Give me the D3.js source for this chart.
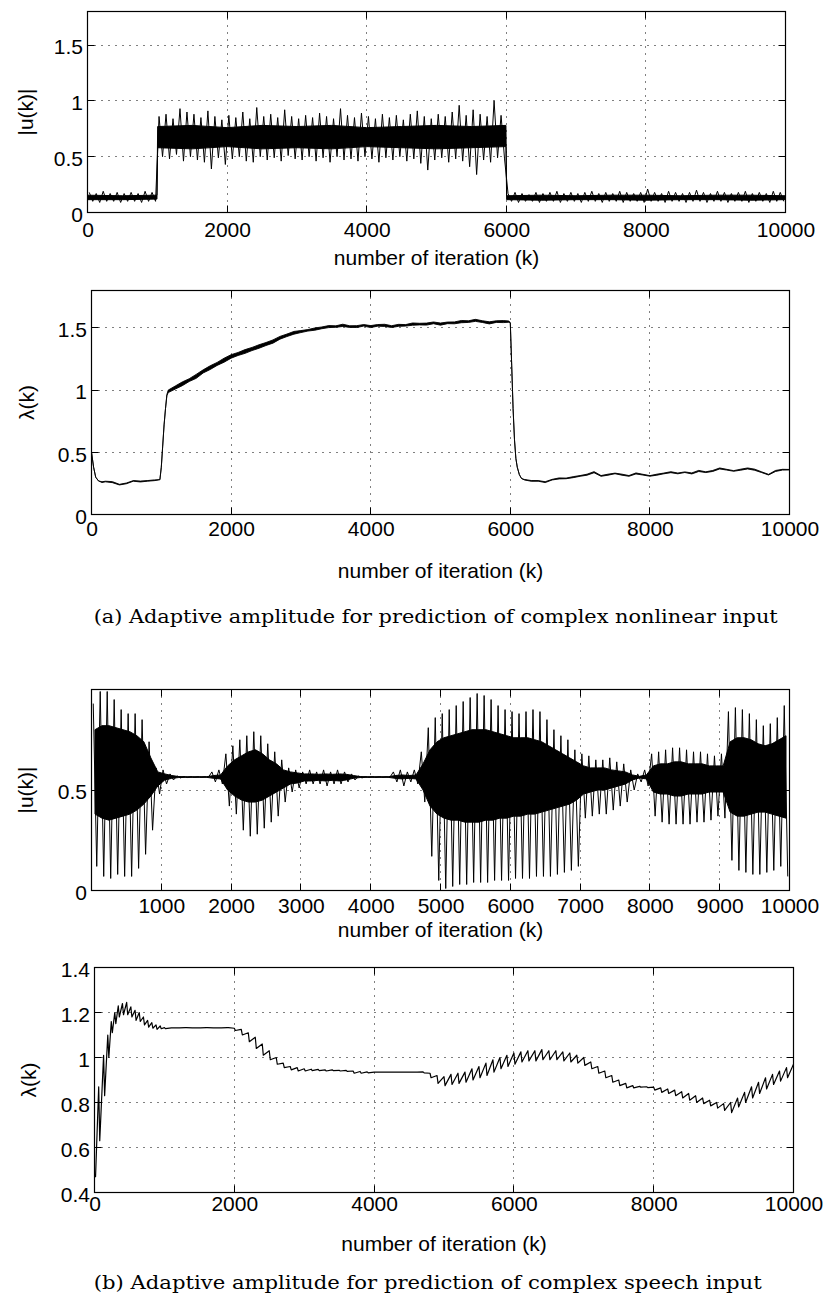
<!DOCTYPE html>
<html>
<head>
<meta charset="utf-8">
<script src="https://cdn.jsdelivr.net/npm/d3@7"></script>
<style>
  body { margin: 0; background: #fff; }
  svg { display: block; }
</style>
</head>
<body>
<div id="chart"></div>
<script>
// Iteration bins (centre of every 100 iterations) used for the noisy |u(k)| traces.
const iterBins = d3.range(50, 10000, 100);

// Tick values.
const xTicksEven = [0, 2000, 4000, 6000, 8000, 10000];
const xTicksThousand = [1000, 2000, 3000, 4000, 5000, 6000, 7000, 8000, 9000, 10000];
const yTicksA = [0, 0.5, 1, 1.5];
const yTicksSpeechU = [0, 0.5];
const yTicksSpeechLam = [0.4, 0.6, 0.8, 1, 1.2, 1.4];

// (a) |u(k)|, nonlinear input: per-bin extremes and the solid core of the band.
const absU1Max = [
  0.18, 0.17, 0.19, 0.17, 0.18, 0.17, 0.18, 0.17, 0.19, 0.18,
  0.86, 0.88, 0.84, 0.93, 0.90, 0.88, 0.85, 0.91, 0.86, 0.83,
  0.87, 0.85, 0.90, 0.84, 0.94, 0.86, 0.88, 0.85, 0.92, 0.86,
  0.84, 0.87, 0.85, 0.89, 0.86, 0.84, 0.93, 0.87, 0.85, 0.89,
  0.86, 0.84, 0.88, 0.85, 0.87, 0.83, 0.88, 0.91, 0.86, 0.84,
  0.88, 0.86, 0.90, 0.96, 0.87, 0.92, 0.88, 0.86, 1.00, 0.87,
  0.17, 0.18, 0.17, 0.16, 0.18, 0.17, 0.18, 0.19, 0.17, 0.18,
  0.17, 0.18, 0.19, 0.17, 0.18, 0.17, 0.19, 0.18, 0.17, 0.18,
  0.21, 0.18, 0.17, 0.19, 0.18, 0.17, 0.18, 0.20, 0.18, 0.17,
  0.19, 0.18, 0.17, 0.18, 0.19, 0.17, 0.18, 0.17, 0.19, 0.18
];
const absU1Min = [
  0.10, 0.09, 0.10, 0.10, 0.09, 0.10, 0.10, 0.09, 0.10, 0.10,
  0.50, 0.48, 0.52, 0.46, 0.50, 0.47, 0.45, 0.39, 0.49, 0.43,
  0.48, 0.50, 0.46, 0.45, 0.50, 0.47, 0.49, 0.46, 0.51, 0.48,
  0.47, 0.50, 0.46, 0.49, 0.45, 0.50, 0.47, 0.48, 0.46, 0.50,
  0.48, 0.45, 0.49, 0.47, 0.50, 0.46, 0.48, 0.44, 0.38, 0.47,
  0.49, 0.45, 0.48, 0.46, 0.41, 0.34, 0.47, 0.45, 0.49, 0.48,
  0.10, 0.09, 0.10, 0.10, 0.09, 0.10, 0.10, 0.09, 0.10, 0.10,
  0.09, 0.10, 0.10, 0.09, 0.10, 0.10, 0.09, 0.10, 0.10, 0.09,
  0.10, 0.10, 0.09, 0.10, 0.10, 0.09, 0.10, 0.10, 0.09, 0.10,
  0.10, 0.09, 0.10, 0.10, 0.09, 0.10, 0.10, 0.09, 0.10, 0.10
];
const absU1CoreK = [0, 500, 995, 1005, 1500, 2000, 2500, 3000, 3500, 4000, 4500, 5000, 5500, 5995,
  6005, 6500, 7000, 7500, 8000, 8500, 9000, 9500, 10000];
const absU1CoreHi = [0.155, 0.15, 0.155, 0.77, 0.78, 0.76, 0.78, 0.77, 0.78, 0.76, 0.77, 0.78, 0.77, 0.78,
  0.15, 0.155, 0.15, 0.155, 0.155, 0.15, 0.155, 0.155, 0.15];
const absU1CoreLo = [0.115, 0.115, 0.12, 0.58, 0.57, 0.59, 0.57, 0.58, 0.57, 0.59, 0.58, 0.57, 0.58, 0.59,
  0.115, 0.11, 0.115, 0.115, 0.11, 0.115, 0.115, 0.11, 0.115];

// (a) lambda(k), nonlinear input: centre of the trace and its noise spread.
const lamAK = [0, 30, 60, 100, 150, 200, 300, 400, 500, 600, 700, 800, 900, 980, 1000, 1020, 1040, 1060, 1080, 1100,
  1200, 1300, 1400, 1500, 1600, 1700, 1800, 1900, 2000, 2100, 2200, 2300, 2400, 2500, 2600, 2700, 2800, 2900,
  3000, 3100, 3200, 3300, 3400, 3500, 3600, 3700, 3800, 3900, 4000, 4100, 4200, 4300, 4400, 4500, 4600, 4700,
  4800, 4900, 5000, 5100, 5200, 5300, 5400, 5500, 5600, 5700, 5800, 5900,
  5980, 6000, 6020, 6040, 6060, 6080, 6100, 6130, 6160, 6200,
  6300, 6400, 6500, 6600, 6700, 6800, 6900, 7000, 7100, 7200, 7300, 7400, 7500, 7600, 7700, 7800, 7900, 8000,
  8100, 8200, 8300, 8400, 8500, 8600, 8700, 8800, 8900, 9000, 9100, 9200, 9300, 9400, 9500, 9600, 9700, 9800,
  9900, 10000];
const lamA = [0.50, 0.38, 0.30, 0.27, 0.26, 0.265, 0.26, 0.24, 0.25, 0.27, 0.265, 0.27, 0.275, 0.28, 0.38, 0.55, 0.72, 0.85, 0.96, 0.99,
  1.02, 1.05, 1.08, 1.11, 1.15, 1.18, 1.21, 1.24, 1.27, 1.29, 1.31, 1.33, 1.35, 1.37, 1.39, 1.42, 1.44, 1.46,
  1.47, 1.48, 1.49, 1.50, 1.51, 1.51, 1.52, 1.51, 1.51, 1.52, 1.51, 1.52, 1.52, 1.51, 1.52, 1.52, 1.53, 1.53,
  1.53, 1.54, 1.53, 1.54, 1.54, 1.55, 1.55, 1.56, 1.55, 1.54, 1.55, 1.55,
  1.55, 1.54, 1.20, 0.85, 0.60, 0.45, 0.38, 0.32, 0.29, 0.28,
  0.27, 0.27, 0.26, 0.28, 0.29, 0.29, 0.30, 0.31, 0.32, 0.34, 0.31, 0.32, 0.33, 0.32, 0.31, 0.33, 0.32, 0.31,
  0.32, 0.33, 0.34, 0.33, 0.34, 0.33, 0.35, 0.34, 0.35, 0.37, 0.36, 0.35, 0.36, 0.37, 0.36, 0.34, 0.32, 0.35,
  0.36, 0.36];
const lamANoise = [0, 0, 0, 0, 0.006, 0.005, 0.008, 0.005, 0.006, 0.005, 0.007, 0.005, 0.006, 0, 0, 0, 0, 0, 0.01, 0.02,
  0.025, 0.03, 0.022, 0.032, 0.025, 0.03, 0.024, 0.032, 0.028, 0.024, 0.03, 0.025, 0.028, 0.024, 0.026, 0.022, 0.02, 0.022,
  0.016, 0.012, 0.018, 0.014, 0.016, 0.012, 0.018, 0.013, 0.015, 0.012, 0.016, 0.013, 0.017, 0.014, 0.016, 0.012, 0.018, 0.013,
  0.016, 0.014, 0.017, 0.013, 0.015, 0.018, 0.013, 0.016, 0.014, 0.017, 0.013, 0.016,
  0.01, 0, 0, 0, 0, 0, 0, 0, 0, 0.004,
  0.006, 0.005, 0.007, 0.005, 0.008, 0.005, 0.008, 0.006, 0.008, 0.009, 0.006, 0.008, 0.005, 0.008, 0.006, 0.008, 0.006, 0.005,
  0.008, 0.006, 0.008, 0.006, 0.005, 0.008, 0.009, 0.006, 0.008, 0.008, 0.006, 0.005, 0.008, 0.008, 0.009, 0.006, 0.005, 0.008,
  0.006, 0.004];

// (b) |u(k)|, speech input: per-bin extremes and solid core.
const absU2Max = [
  0.93, 0.99, 0.99, 0.95, 0.90, 0.88, 0.88, 0.85, 0.74, 0.61,
  0.60, 0.58, 0.57, 0.567, 0.566, 0.566, 0.566, 0.59, 0.60, 0.68,
  0.72, 0.75, 0.77, 0.79, 0.77, 0.73, 0.69, 0.65, 0.61, 0.60,
  0.59, 0.60, 0.59, 0.60, 0.59, 0.60, 0.59, 0.58, 0.57, 0.566,
  0.566, 0.566, 0.566, 0.59, 0.60, 0.59, 0.60, 0.69, 0.81, 0.86,
  0.88, 0.90, 0.92, 0.94, 0.96, 0.98, 0.97, 0.95, 0.92, 0.90,
  0.89, 0.88, 0.89, 0.90, 0.89, 0.85, 0.80, 0.77, 0.75, 0.70,
  0.68, 0.67, 0.65, 0.65, 0.66, 0.64, 0.63, 0.60, 0.58, 0.60,
  0.68, 0.69, 0.70, 0.71, 0.71, 0.70, 0.69, 0.69, 0.68, 0.67,
  0.68, 0.89, 0.91, 0.90, 0.88, 0.85, 0.82, 0.83, 0.86, 0.92
];
const absU2Min = [
  0.12, 0.07, 0.06, 0.08, 0.07, 0.07, 0.11, 0.18, 0.30, 0.48,
  0.53, 0.55, 0.56, 0.562, 0.563, 0.563, 0.563, 0.54, 0.53, 0.42,
  0.38, 0.30, 0.27, 0.28, 0.31, 0.34, 0.37, 0.44, 0.49, 0.51,
  0.53, 0.53, 0.53, 0.52, 0.53, 0.53, 0.54, 0.55, 0.56, 0.563,
  0.563, 0.563, 0.563, 0.54, 0.52, 0.54, 0.53, 0.44, 0.17, 0.05,
  0.01, 0.02, 0.03, 0.03, 0.04, 0.04, 0.04, 0.05, 0.05, 0.05,
  0.06, 0.06, 0.06, 0.07, 0.07, 0.07, 0.08, 0.09, 0.10, 0.12,
  0.36, 0.37, 0.38, 0.38, 0.40, 0.42, 0.44, 0.50, 0.54, 0.52,
  0.37, 0.34, 0.33, 0.33, 0.33, 0.33, 0.34, 0.34, 0.35, 0.37,
  0.36, 0.15, 0.10, 0.09, 0.08, 0.08, 0.09, 0.10, 0.12, 0.07
];
const absU2CoreHi = [
  0.80, 0.82, 0.82, 0.81, 0.80, 0.79, 0.77, 0.74, 0.66, 0.59,
  0.58, 0.572, 0.567, 0.566, 0.566, 0.566, 0.566, 0.572, 0.575, 0.62,
  0.65, 0.67, 0.69, 0.70, 0.68, 0.65, 0.63, 0.60, 0.59, 0.585,
  0.58, 0.58, 0.578, 0.58, 0.578, 0.58, 0.578, 0.572, 0.567, 0.566,
  0.566, 0.566, 0.566, 0.572, 0.575, 0.572, 0.575, 0.63, 0.70, 0.74,
  0.76, 0.77, 0.78, 0.79, 0.80, 0.80, 0.80, 0.79, 0.78, 0.77,
  0.76, 0.76, 0.76, 0.75, 0.74, 0.72, 0.70, 0.68, 0.66, 0.64,
  0.62, 0.61, 0.61, 0.61, 0.60, 0.595, 0.59, 0.575, 0.568, 0.575,
  0.62, 0.63, 0.63, 0.64, 0.64, 0.63, 0.63, 0.63, 0.62, 0.62,
  0.62, 0.74, 0.76, 0.76, 0.75, 0.73, 0.72, 0.73, 0.75, 0.77
];
const absU2CoreLo = [
  0.38, 0.36, 0.35, 0.36, 0.37, 0.38, 0.40, 0.43, 0.47, 0.52,
  0.55, 0.558, 0.562, 0.563, 0.563, 0.563, 0.563, 0.558, 0.555, 0.50,
  0.47, 0.45, 0.44, 0.44, 0.45, 0.47, 0.49, 0.51, 0.53, 0.535,
  0.545, 0.545, 0.548, 0.545, 0.548, 0.545, 0.55, 0.558, 0.562, 0.563,
  0.563, 0.563, 0.563, 0.558, 0.555, 0.558, 0.555, 0.50, 0.42, 0.38,
  0.36, 0.35, 0.35, 0.34, 0.34, 0.34, 0.35, 0.35, 0.36, 0.36,
  0.37, 0.37, 0.38, 0.38, 0.39, 0.40, 0.41, 0.42, 0.43, 0.45,
  0.48, 0.49, 0.50, 0.50, 0.51, 0.52, 0.53, 0.55, 0.56, 0.555,
  0.49, 0.48, 0.48, 0.47, 0.47, 0.48, 0.48, 0.48, 0.49, 0.49,
  0.49, 0.39, 0.37, 0.37, 0.38, 0.39, 0.39, 0.38, 0.37, 0.36
];

// (b) lambda(k), speech input: value before each pitch-pulse dip and the dip itself.
const lamBK = [0, 60, 130, 190, 240, 290, 340, 400, 460, 520, 580, 640, 700, 760, 820, 880, 940, 1000,
  1100, 1200, 1300, 1400, 1500, 1600, 1700, 1800, 1900,
  2000, 2100, 2200, 2300, 2400, 2500, 2600, 2700, 2800, 2900,
  3000, 3100, 3200, 3300, 3400, 3500, 3600, 3700, 3800, 3900,
  4000, 4100, 4200, 4300, 4400, 4500, 4600, 4700, 4800, 4900,
  5000, 5100, 5200, 5300, 5400, 5500, 5600, 5700, 5800, 5900,
  6000, 6100, 6200, 6300, 6400, 6500, 6600, 6700, 6800, 6900,
  7000, 7100, 7200, 7300, 7400, 7500, 7600, 7700, 7800, 7900,
  8000, 8100, 8200, 8300, 8400, 8500, 8600, 8700, 8800, 8900,
  9000, 9100, 9200, 9300, 9400, 9500, 9600, 9700, 9800, 9900, 10000];
const lamBTop = [0.47, 0.87, 1.01, 1.10, 1.16, 1.20, 1.23, 1.24, 1.245, 1.225, 1.21, 1.20, 1.18, 1.165, 1.155, 1.145, 1.14, 1.133,
  1.132, 1.132, 1.133, 1.132, 1.132, 1.133, 1.132, 1.132, 1.133,
  1.13, 1.125, 1.11, 1.09, 1.06, 1.03, 1.00, 0.975, 0.96, 0.955,
  0.95, 0.948, 0.947, 0.945, 0.945, 0.943, 0.943, 0.94, 0.938, 0.936,
  0.935, 0.935, 0.935, 0.935, 0.935, 0.935, 0.935, 0.936, 0.93, 0.92,
  0.915, 0.925, 0.93, 0.935, 0.95, 0.96, 0.975, 0.99, 1.00, 1.01,
  1.02, 1.025, 1.03, 1.03, 1.035, 1.03, 1.03, 1.025, 1.02, 1.01,
  1.00, 0.98, 0.96, 0.94, 0.92, 0.90, 0.885, 0.875, 0.872, 0.87,
  0.868, 0.865, 0.86, 0.855, 0.848, 0.84, 0.83, 0.82, 0.81, 0.80,
  0.795, 0.80, 0.82, 0.845, 0.87, 0.89, 0.91, 0.925, 0.94, 0.955, 0.97];
const lamBDip = [0.47, 0.63, 0.83, 1.00, 1.11, 1.15, 1.18, 1.19, 1.19, 1.18, 1.165, 1.16, 1.145, 1.135, 1.13, 1.125, 1.128, 1.128,
  1.132, 1.132, 1.133, 1.132, 1.132, 1.133, 1.132, 1.132, 1.133,
  1.12, 1.10, 1.07, 1.04, 1.01, 0.99, 0.97, 0.955, 0.945, 0.94,
  0.94, 0.942, 0.942, 0.94, 0.942, 0.94, 0.938, 0.93, 0.93, 0.932,
  0.935, 0.935, 0.935, 0.935, 0.935, 0.935, 0.935, 0.932, 0.91, 0.885,
  0.875, 0.88, 0.885, 0.89, 0.90, 0.91, 0.92, 0.935, 0.95, 0.96,
  0.97, 0.98, 0.985, 0.985, 0.99, 0.99, 0.99, 0.985, 0.98, 0.975,
  0.965, 0.95, 0.93, 0.91, 0.89, 0.875, 0.865, 0.865, 0.868, 0.866,
  0.855, 0.845, 0.84, 0.83, 0.82, 0.81, 0.80, 0.795, 0.785, 0.775,
  0.765, 0.755, 0.78, 0.80, 0.82, 0.84, 0.86, 0.88, 0.895, 0.91, 0.93];

const captionA = '(a) Adaptive amplitude for prediction of complex nonlinear input';
const captionB = '(b) Adaptive amplitude for prediction of complex speech input';
const xTitle = 'number of iteration (k)';

// Layout.
const width = 825;
const height = 1296;
const sans = "'Liberation Sans', Arial, Helvetica, sans-serif";
const serif = "'DejaVu Serif', 'Liberation Serif', serif";
const tickLen = 7;

const panels = [
  { id: 'p1', left: 87.5, right: 785.5, top: 11.5, bottom: 212.5, yDomain: [0, 1.8],
    xTicks: xTicksEven, xLabels: xTicksEven, yTicks: yTicksA, xPad: 10, titleY: 264.5,
    yTitle: '|u(k)|', yTitleX: 32.5 },
  { id: 'p2', left: 91.5, right: 789.5, top: 290.5, bottom: 514.5, yDomain: [0, 1.8],
    xTicks: xTicksEven, xLabels: xTicksEven, yTicks: yTicksA, xPad: 7, titleY: 577.5,
    yTitle: 'λ(k)', yTitleX: 34 },
  { id: 'p3', left: 91.5, right: 789.5, top: 689.5, bottom: 890.5, yDomain: [0, 1],
    xTicks: xTicksThousand, xLabels: xTicksThousand, yTicks: yTicksSpeechU, xPad: 8, titleY: 937,
    yTitle: '|u(k)|', yTitleX: 32.5 },
  { id: 'p4', left: 94.5, right: 793.5, top: 967.5, bottom: 1192.5, yDomain: [0.4, 1.4],
    xTicks: xTicksEven, xLabels: xTicksEven, yTicks: yTicksSpeechLam, xPad: 4, titleY: 1250.5,
    yTitle: 'λ(k)', yTitleX: 35.5 }
];

const svg = d3.select('#chart')
  .append('svg')
  .attr('width', width)
  .attr('height', height)
  .attr('viewBox', `0 0 ${width} ${height}`);

const defs = svg.append('defs');
const snap = v => Math.round(v - 0.5) + 0.5;

const drawPanel = p => {
  const x = d3.scaleLinear().domain([0, 10000]).range([p.left, p.right]);
  const y = d3.scaleLinear().domain(p.yDomain).range([p.bottom, p.top]);
  const g = svg.append('g');

  defs.append('clipPath').attr('id', 'clip-' + p.id)
    .append('rect')
    .attr('x', p.left).attr('y', p.top)
    .attr('width', p.right - p.left).attr('height', p.bottom - p.top);

  // Dotted grid.
  const grid = g.append('g')
    .attr('stroke', '#000')
    .attr('stroke-width', 1)
    .attr('stroke-dasharray', '1,6');
  grid.selectAll('line.gx')
    .data(p.xTicks.filter(t => t > 0 && t < 10000))
    .join('line')
    .attr('class', 'gx')
    .attr('x1', d => snap(x(d))).attr('x2', d => snap(x(d)))
    .attr('y1', p.top).attr('y2', p.bottom);
  grid.selectAll('line.gy')
    .data(p.yTicks.filter(t => t > p.yDomain[0] && t < p.yDomain[1]))
    .join('line')
    .attr('class', 'gy')
    .attr('x1', p.left).attr('x2', p.right)
    .attr('y1', d => snap(y(d))).attr('y2', d => snap(y(d)));

  const data = g.append('g').attr('clip-path', `url(#clip-${p.id})`);

  // Inward ticks on all four sides.
  const ticks = g.append('g').attr('stroke', '#000').attr('stroke-width', 1);
  p.xTicks.forEach(t => {
    const xx = snap(x(t));
    ticks.append('line').attr('x1', xx).attr('x2', xx).attr('y1', p.bottom).attr('y2', p.bottom - tickLen);
    ticks.append('line').attr('x1', xx).attr('x2', xx).attr('y1', p.top).attr('y2', p.top + tickLen);
  });
  p.yTicks.forEach(t => {
    const yy = snap(y(t));
    ticks.append('line').attr('x1', p.left).attr('x2', p.left + tickLen).attr('y1', yy).attr('y2', yy);
    ticks.append('line').attr('x1', p.right).attr('x2', p.right - tickLen).attr('y1', yy).attr('y2', yy);
  });

  // Axes box.
  g.append('rect')
    .attr('x', p.left).attr('y', p.top)
    .attr('width', p.right - p.left).attr('height', p.bottom - p.top)
    .attr('fill', 'none')
    .attr('stroke', '#000')
    .attr('stroke-width', 1.2);

  // Tick labels.
  g.append('g')
    .attr('transform', `translate(0,${p.bottom})`)
    .call(d3.axisBottom(x).tickValues(p.xLabels).tickSize(0).tickPadding(p.xPad).tickFormat(d3.format('d')))
    .call(a => a.select('.domain').remove())
    .call(a => a.selectAll('text').attr('fill', '#000'))
    .attr('font-family', sans)
    .attr('font-size', 21);

  g.append('g')
    .attr('transform', `translate(${p.left},0)`)
    .call(d3.axisLeft(y).tickValues(p.yTicks).tickSize(0).tickPadding(4.5).tickFormat(d => String(d)))
    .call(a => a.select('.domain').remove())
    .call(a => a.selectAll('text').attr('fill', '#000').attr('dy', '0.42em'))
    .attr('font-family', sans)
    .attr('font-size', 21);

  // Axis titles.
  g.append('text')
    .attr('x', (p.left + p.right) / 2)
    .attr('y', p.titleY)
    .attr('text-anchor', 'middle')
    .attr('font-family', sans)
    .attr('font-size', 21)
    .text(xTitle);

  g.append('text')
    .attr('transform', `translate(${p.yTitleX},${(p.top + p.bottom) / 2}) rotate(-90)`)
    .attr('text-anchor', 'middle')
    .attr('font-family', sans)
    .attr('font-size', 21)
    .text(p.yTitle);

  return { x, y, data };
};

// Noisy band: solid core plus a trace swinging between each bin's maximum and minimum.
const drawBand = (panel, coreK, coreHi, coreLo, binK, maxV, minV) => {
  const { x, y, data } = panel;
  const core = coreK.map((k, i) => ({ k, hi: coreHi[i], lo: coreLo[i] }));
  data.append('path')
    .datum(core)
    .attr('d', d3.area().x(d => x(d.k)).y0(d => y(d.lo)).y1(d => y(d.hi)))
    .attr('fill', '#000')
    .attr('stroke', '#000')
    .attr('stroke-width', 1)
    .attr('stroke-linejoin', 'round');

  const swing = binK.flatMap((k, i) => [[k - 25, maxV[i]], [k + 25, minV[i]]]);
  data.append('path')
    .datum(swing)
    .attr('d', d3.line().x(d => x(d[0])).y(d => y(d[1])))
    .attr('fill', 'none')
    .attr('stroke', '#000')
    .attr('stroke-width', 1)
    .attr('stroke-linejoin', 'miter');
};

const [pa1, pa2, pb1, pb2] = panels.map(drawPanel);

drawBand(pa1, absU1CoreK, absU1CoreHi, absU1CoreLo, iterBins, absU1Max, absU1Min);
drawBand(pb1, iterBins, absU2CoreHi, absU2CoreLo, iterBins, absU2Max, absU2Min);

// lambda(k) for the nonlinear input: a trace as thick as its noise spread.
const lamAData = lamAK.map((k, i) => ({ k, hi: lamA[i] + lamANoise[i] / 2, lo: lamA[i] - lamANoise[i] / 2 }));
pa2.data.append('path')
  .datum(lamAData)
  .attr('d', d3.area().x(d => pa2.x(d.k)).y0(d => pa2.y(d.lo)).y1(d => pa2.y(d.hi)))
  .attr('fill', '#000')
  .attr('stroke', '#000')
  .attr('stroke-width', 0.9)
  .attr('stroke-linejoin', 'round');

// lambda(k) for the speech input: sawtooth from each pitch-pulse dip.
const lamBPoints = lamBK.flatMap((k, i) => [[k, lamBTop[i]], [k + 15, lamBDip[i]]]);
pb2.data.append('path')
  .datum(lamBPoints)
  .attr('d', d3.line().x(d => pb2.x(d[0])).y(d => pb2.y(d[1])))
  .attr('fill', 'none')
  .attr('stroke', '#000')
  .attr('stroke-width', 1.2)
  .attr('stroke-linejoin', 'round');

// Sub-figure captions.
svg.append('text')
  .attr('x', 93.7).attr('y', 623)
  .attr('font-family', serif)
  .attr('font-size', 19)
  .attr('textLength', 684)
  .attr('lengthAdjust', 'spacingAndGlyphs')
  .text(captionA);

svg.append('text')
  .attr('x', 93.7).attr('y', 1289)
  .attr('font-family', serif)
  .attr('font-size', 19)
  .attr('textLength', 668)
  .attr('lengthAdjust', 'spacingAndGlyphs')
  .text(captionB);
</script>
</body>
</html>
